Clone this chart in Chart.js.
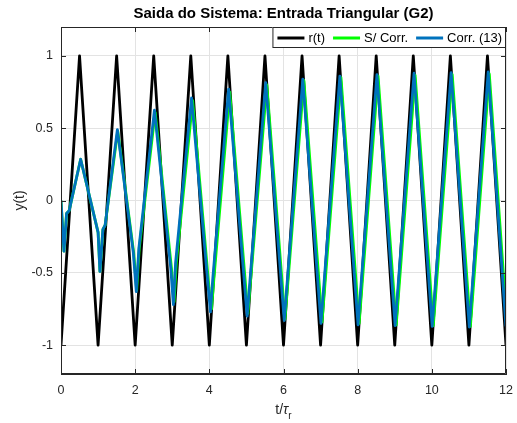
<!DOCTYPE html>
<html>
<head>
<meta charset="utf-8">
<script src="https://cdn.jsdelivr.net/npm/chart.js@4.4.1/dist/chart.umd.min.js"></script>
<style>
  html, body { margin: 0; padding: 0; background: #fff; }
</style>
</head>
<body>
<canvas id="chart" width="517" height="423"></canvas>
<script>
const FONT = "'Liberation Sans', Arial, Helvetica, sans-serif";
const AXIS_COLOR = "#262626";
const TITLE = "Saida do Sistema: Entrada Triangular (G2)";

// reference r(t): triangular input
const tRef = [0, 0.5, 1, 1.5, 2, 2.5, 3, 3.5, 4, 4.5, 5, 5.5, 6, 6.5, 7, 7.5, 8, 8.5, 9, 9.5, 10, 10.5, 11, 11.5, 12];
const rRef = [-1, 1, -1, 1, -1, 1, -1, 1, -1, 1, -1, 1, -1, 1, -1, 1, -1, 1, -1, 1, -1, 1, -1, 1, -1];

// output without correction
const tSem = [0, 0.08, 0.15, 0.22, 0.53, 1.0, 1.05, 1.13, 1.19, 1.53, 1.96, 2.04, 2.11, 2.54, 2.98, 3.05, 3.11, 3.55, 3.99, 4.06, 4.12, 4.55, 5.04, 5.55, 6.04, 6.55, 7.04, 7.55, 8.04, 8.55, 9.04, 9.55, 10.04, 10.55, 11.04, 11.55, 12];
const ySem = [0, -0.35, -0.09, -0.07, 0.285, -0.22, -0.49, -0.2, -0.17, 0.48, -0.36, -0.62, -0.33, 0.61, -0.47, -0.7, -0.43, 0.69, -0.6, -0.75, -0.55, 0.75, -0.78, 0.8, -0.82, 0.83, -0.84, 0.85, -0.85, 0.86, -0.86, 0.865, -0.865, 0.87, -0.87, 0.875, -0.76];

// output with correction (13)
const tCorr = [0, 0.08, 0.15, 0.22, 0.53, 1.0, 1.05, 1.13, 1.19, 1.52, 1.95, 2.03, 2.1, 2.52, 2.96, 3.03, 3.09, 3.52, 3.97, 4.03, 4.09, 4.52, 5.02, 5.52, 6.02, 6.52, 7.01, 7.52, 8.01, 8.52, 9.01, 9.52, 10.01, 10.52, 11.01, 11.52, 12];
const yCorr = [0, -0.35, -0.09, -0.07, 0.285, -0.22, -0.49, -0.2, -0.17, 0.49, -0.36, -0.63, -0.33, 0.625, -0.47, -0.72, -0.43, 0.71, -0.6, -0.77, -0.55, 0.77, -0.8, 0.815, -0.83, 0.84, -0.85, 0.86, -0.86, 0.87, -0.865, 0.88, -0.87, 0.885, -0.875, 0.89, -0.87];

const xTicks = [0, 2, 4, 6, 8, 10, 12];
const yTicks = [-1, -0.5, 0, 0.5, 1];

function toPoints(xs, ys) {
  return xs.map((x, i) => ({ x: x, y: ys[i] }));
}

function noScalePadding(scale) {
  scale.paddingLeft = 0;
  scale.paddingRight = 0;
  scale.paddingTop = 0;
  scale.paddingBottom = 0;
}

// title, box, inside ticks, legend and x label (MATLAB look)
const matlabFrame = {
  id: "matlabFrame",
  afterDatasetsDraw(chart) {
    const { ctx, chartArea } = chart;
    const { left, right, top, bottom } = chartArea;
    const xScale = chart.scales.x;
    const yScale = chart.scales.y;
    const mid = (left + right) / 2;
    const tick = 5;

    ctx.save();

    // title centred over the axes
    ctx.fillStyle = "#000";
    ctx.font = "bold 15px " + FONT;
    ctx.textAlign = "center";
    ctx.textBaseline = "alphabetic";
    ctx.fillText(TITLE, mid, 18);
    ctx.textAlign = "left";

    ctx.strokeStyle = AXIS_COLOR;
    ctx.lineWidth = 1;
    ctx.beginPath();
    ctx.rect(left + 0.5, top + 0.5, right - left - 1, bottom - top - 1);

    xTicks.forEach((v) => {
      const px = Math.round(xScale.getPixelForValue(v)) + 0.5;
      ctx.moveTo(px, bottom);
      ctx.lineTo(px, bottom - tick);
      ctx.moveTo(px, top);
      ctx.lineTo(px, top + tick);
    });
    yTicks.forEach((v) => {
      const py = Math.round(yScale.getPixelForValue(v)) + 0.5;
      ctx.moveTo(left, py);
      ctx.lineTo(left + tick, py);
      ctx.moveTo(right, py);
      ctx.lineTo(right - tick, py);
    });
    ctx.stroke();

    // legend
    ctx.font = "13px " + FONT;
    ctx.textBaseline = "middle";
    const lineLen = 27;
    const items = [0, 1, 2].map((i) => chart.data.datasets[i]);
    let width = 5 + 4 - 8;
    items.forEach((ds) => {
      width += lineLen + 4 + ctx.measureText(ds.label).width + 8;
    });
    const boxH = 21;
    const boxX = right - width;
    ctx.fillStyle = "#fff";
    ctx.fillRect(boxX, top, width, boxH);
    ctx.strokeStyle = AXIS_COLOR;
    ctx.lineWidth = 1;
    ctx.strokeRect(boxX + 0.5, top + 0.5, width - 1, boxH - 1);

    let cx = boxX + 5;
    const cy = top + boxH / 2 + 0.5;
    items.forEach((ds) => {
      ctx.strokeStyle = ds.borderColor;
      ctx.lineWidth = 3;
      ctx.beginPath();
      ctx.moveTo(cx, cy);
      ctx.lineTo(cx + lineLen, cy);
      ctx.stroke();
      cx += lineLen + 4;
      ctx.fillStyle = "#000";
      ctx.fillText(ds.label, cx, cy);
      cx += ctx.measureText(ds.label).width + 8;
    });

    // x label t/tau_r
    ctx.fillStyle = AXIS_COLOR;
    ctx.textBaseline = "alphabetic";
    ctx.font = "14px " + FONT;
    const part1 = "t/";
    const w1 = ctx.measureText(part1).width;
    ctx.font = "italic 14px " + FONT;
    const w2 = ctx.measureText("τ").width;
    ctx.font = "10px " + FONT;
    const w3 = ctx.measureText("r").width;
    let lx = mid - (w1 + w2 + w3) / 2;
    const base = 414;
    ctx.font = "14px " + FONT;
    ctx.fillText(part1, lx, base);
    lx += w1;
    ctx.font = "italic 14px " + FONT;
    ctx.fillText("τ", lx, base);
    lx += w2;
    ctx.font = "10px " + FONT;
    ctx.fillText("r", lx, base + 5);
    ctx.restore();
  }
};

new Chart(document.getElementById("chart"), {
  type: "line",
  data: {
    datasets: [
      {
        label: "r(t)",
        data: toPoints(tRef, rRef),
        borderColor: "#000000",
        borderWidth: 2.8,
        order: 3
      },
      {
        label: "S/ Corr.",
        data: toPoints(tSem, ySem),
        borderColor: "#00ff00",
        borderWidth: 2.8,
        order: 2
      },
      {
        label: "Corr. (13)",
        data: toPoints(tCorr, yCorr),
        borderColor: "#0072bd",
        borderWidth: 2.8,
        order: 1
      }
    ]
  },
  options: {
    responsive: false,
    animation: false,
    events: [],
    elements: {
      point: { radius: 0 },
      line: { tension: 0, borderJoinStyle: "round", fill: false }
    },
    layout: { padding: { left: 0, right: 11, top: 27, bottom: 0 } },
    plugins: {
      legend: { display: false },
      tooltip: { enabled: false },
      title: { display: false }
    },
    scales: {
      x: {
        type: "linear",
        min: 0,
        max: 12,
        afterBuildTicks: (scale) => {
          scale.ticks = xTicks.map((v) => ({ value: v }));
        },
        afterFit: (scale) => {
          scale.height = 49;
          noScalePadding(scale);
        },
        ticks: {
          color: AXIS_COLOR,
          font: { family: FONT, size: 12.5 },
          padding: 9,
          maxRotation: 0,
          callback: (v) => String(v)
        },
        grid: { color: "#e3e3e3", drawTicks: false },
        border: { display: true, color: AXIS_COLOR }
      },
      y: {
        type: "linear",
        min: -1.2,
        max: 1.2,
        afterBuildTicks: (scale) => {
          scale.ticks = yTicks.map((v) => ({ value: v }));
        },
        afterFit: (scale) => {
          scale.width = 61;
          noScalePadding(scale);
        },
        ticks: {
          color: AXIS_COLOR,
          font: { family: FONT, size: 12.5 },
          padding: 8,
          callback: (v) => String(v)
        },
        grid: { color: "#e3e3e3", drawTicks: false },
        border: { display: true, color: AXIS_COLOR },
        title: {
          display: true,
          text: "y(t)",
          color: AXIS_COLOR,
          font: { family: FONT, size: 14 },
          padding: { top: 12, bottom: 0 }
        }
      }
    }
  },
  plugins: [matlabFrame]
});
</script>
</body>
</html>
